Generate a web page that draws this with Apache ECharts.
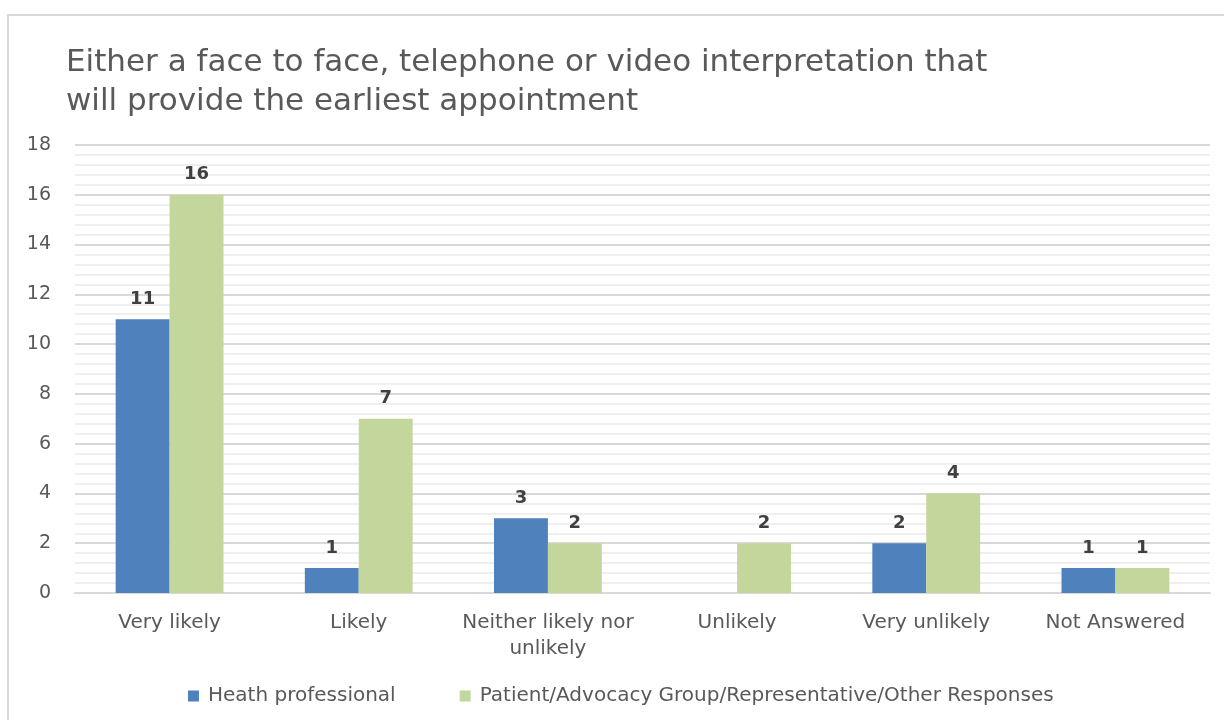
<!DOCTYPE html>
<html><head><meta charset="utf-8">
<script src="https://cdn.jsdelivr.net/npm/echarts@6/dist/echarts.min.js"></script>
<style>html,body{margin:0;padding:0;background:#fff}#c{width:1224px;height:720px}</style>
</head><body><div id="c"></div>
<script>
var titleText = "Either a face to face, telephone or video interpretation that\nwill provide the earliest appointment";
var categories = ["Very likely", "Likely", "Neither likely nor\nunlikely", "Unlikely", "Very unlikely", "Not Answered"];
var seriesNames = ["Heath professional", "Patient/Advocacy Group/Representative/Other Responses"];
var healthValues = [11, 1, 3, null, 2, 1];
var patientValues = [16, 7, 2, 2, 4, 1];
var yTicks = {min: 0, max: 18, interval: 2};

var chart = echarts.init(document.getElementById('c'));
var font = "'DejaVu Sans', sans-serif";
var labelCfg = {show: true, position: 'top', distance: 11, color: '#404040', fontWeight: 'bold', fontSize: 18, fontFamily: font};
chart.setOption({
  animation: false,
  graphic: [{type: 'rect', shape: {x: 8, y: 15, width: 1240, height: 730}, style: {fill: 'none', stroke: '#d9d9d9', lineWidth: 2}, z: -1}],
  title: {text: titleText, left: 61, top: 38, textStyle: {fontFamily: font, fontSize: 31, fontWeight: 'normal', color: '#595959', lineHeight: 39}},
  legend: {bottom: 9, left: 183, itemWidth: 11, itemHeight: 11, itemGap: 64, icon: 'rect',
    textStyle: {fontFamily: font, fontSize: 20, color: '#595959', padding: [0, 0, 0, 4]}, data: seriesNames},
  grid: {left: 75, right: 14, top: 145, bottom: 127, containLabel: false},
  xAxis: {type: 'category', data: categories,
    axisLine: {lineStyle: {color: '#d9d9d9', width: 2}}, axisTick: {show: false},
    axisLabel: {interval: 0, fontFamily: font, fontSize: 20, color: '#595959', margin: 17, lineHeight: 26}},
  yAxis: {type: 'value', min: yTicks.min, max: yTicks.max, interval: yTicks.interval,
    axisLine: {show: false}, axisTick: {show: false},
    axisLabel: {fontFamily: font, fontSize: 19, color: '#595959', margin: 24},
    splitLine: {lineStyle: {color: '#d9d9d9', width: 2}},
    minorTick: {show: false, splitNumber: 5},
    minorSplitLine: {show: true, lineStyle: {color: '#efefef', width: 2}}},
  series: [
    {name: seriesNames[0], type: 'bar', data: healthValues, itemStyle: {color: '#4f81bd'}, barGap: '0%', barCategoryGap: '43%', label: labelCfg},
    {name: seriesNames[1], type: 'bar', data: patientValues, itemStyle: {color: '#c3d69b'}, barGap: '0%', barCategoryGap: '43%', label: labelCfg}
  ]
});
</script></body></html>
